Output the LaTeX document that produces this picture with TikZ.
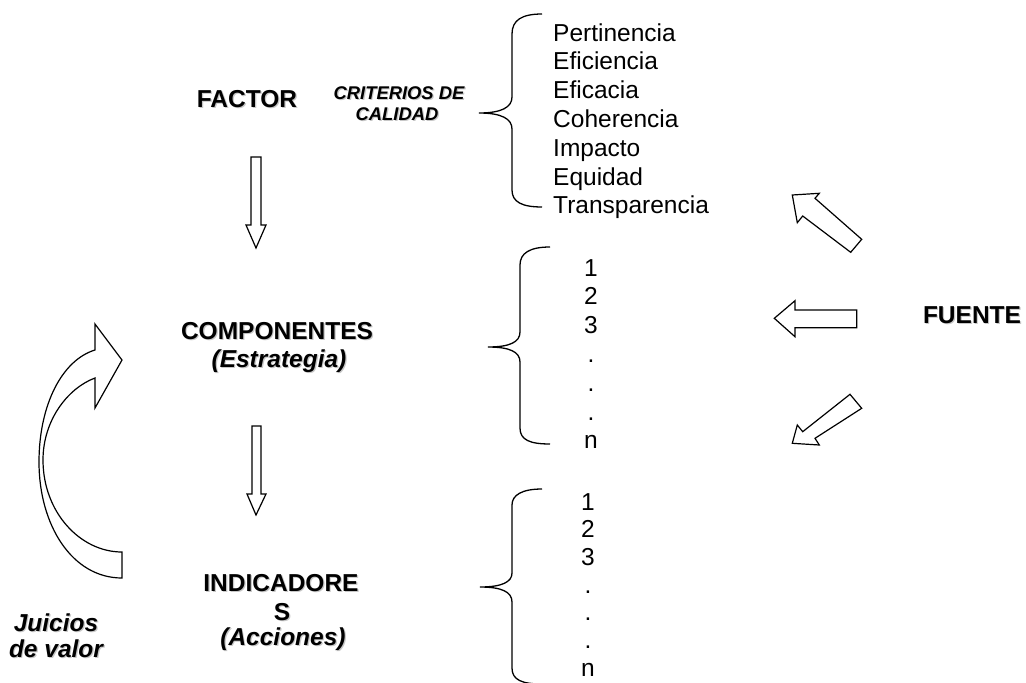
\documentclass[tikz,border=0pt]{standalone}
\usepackage{fontspec}
\setmainfont{Liberation Sans}
\newcommand\shlabel[4]{%
  \node[#3, text=black!22, xshift=1.2pt, yshift=-1.2pt] (#1-sh) at (#2) {#4};
  \node[#3] (#1) at (#2) {#4};}
\begin{document}
\begin{tikzpicture}[x=1pt,y=-1pt,
  base/.style={inner sep=0pt, anchor=base},
  item/.style={base, font=\fontsize{24.5}{29}\selectfont},
  bold/.style={base, font=\fontsize{24.5}{29}\selectfont\bfseries},
  boldit/.style={base, font=\fontsize{24.5}{29}\selectfont\bfseries\itshape},
  smallit/.style={base, font=\fontsize{18.4}{22}\selectfont\bfseries\itshape},
  blk/.style={draw, fill=white, line width=1.2pt, line join=miter},
  brc/.style={draw, line width=1.3pt}]
\useasboundingbox (0,0) rectangle (1026,683);
\fill[white] (0,0) rectangle (1026,683);

% labels
\shlabel{factor}{247,107}{bold}{FACTOR}
\shlabel{crit1}{399,99}{smallit}{CRITERIOS DE}
\shlabel{crit2}{397,120}{smallit}{CALIDAD}
\shlabel{comp}{277,339}{bold}{COMPONENTES}
\shlabel{estr}{279,367}{boldit}{(Estrategia)}
\shlabel{ind1}{281,591}{bold}{INDICADORE}
\shlabel{ind2}{282,620}{bold}{S}
\shlabel{acc}{283,645}{boldit}{(Acciones)}
\shlabel{juic}{56,631}{boldit}{Juicios}
\shlabel{valor}{56,657}{boldit}{de valor}
\shlabel{fuente}{972,323}{bold}{FUENTE}

% lists
\foreach \t [count=\i] in {Pertinencia,Eficiencia,Eficacia,Coherencia,Impacto,Equidad,Transparencia}
  \node[item, anchor=base west] (c\i) at (553,{41+28.8*(\i-1)}) {\t};
\foreach \t [count=\i] in {1,2,3,.,.,.,n}
  \node[item] (m\i) at (591,{276+28.8*(\i-1)}) {\t};
\foreach \t [count=\i] in {1,2,3,.,.,.,n}
  \node[item] (b\i) at (588,{510+27.7*(\i-1)}) {\t};

% braces
\draw[brc] (542,14) .. controls (522,14) and (512,20) .. (512,34) -- (512,97)
  .. controls (512,107) and (502,113) .. (479,113)
  .. controls (502,113) and (512,119) .. (512,129) -- (512,190)
  .. controls (512,202) and (522,207) .. (542,207);
\draw[brc] (550,247) .. controls (530,247) and (520,253) .. (520,265) -- (520,332)
  .. controls (520,342) and (510,347) .. (488,347)
  .. controls (510,347) and (520,352) .. (520,362) -- (520,428)
  .. controls (520,440) and (530,444) .. (550,444);
\draw[brc] (542,489) .. controls (522,489) and (512,495) .. (512,505) -- (512,573)
  .. controls (512,582) and (502,587) .. (480,587)
  .. controls (502,587) and (512,592) .. (512,602) -- (512,668)
  .. controls (512,680) and (522,684) .. (542,684);

% down arrows
\draw[blk] (251,157) -- (261,157) -- (261,225) -- (266,225) -- (256,248) -- (246,225) -- (251,225) -- cycle;
\draw[blk] (252,426) -- (261,426) -- (261,494) -- (266,494) -- (256,515) -- (247,494) -- (252,494) -- cycle;

% source arrows
\draw[blk] (792.3,195) -- (819.3,193.3) -- (815,198.3) -- (861.7,239.3) -- (850.7,252.3) -- (802.7,216) -- (797.3,222.7) -- cycle;
\draw[blk] (856.7,310) -- (795,310) -- (795,300.7) -- (774.3,318.3) -- (795,336.7) -- (795,327.7) -- (856.7,327.7) -- cycle;
\draw[blk] (792.3,443.3) -- (797.3,425) -- (802.7,431.7) -- (850,394.3) -- (861.7,408.3) -- (815,438.3) -- (819.3,445) -- cycle;

% curved arrow
\draw[blk] (122,552) -- (122,578) .. controls (72,578) and (39,525) .. (39,462)
  .. controls (39,405) and (62,360) .. (95,350) -- (95,324) -- (122,360) -- (95,408) -- (95,378)
  .. controls (68,388) and (43,420) .. (43,460)
  .. controls (43,512) and (80,552) .. (122,552) -- cycle;
\end{tikzpicture}
\end{document}
